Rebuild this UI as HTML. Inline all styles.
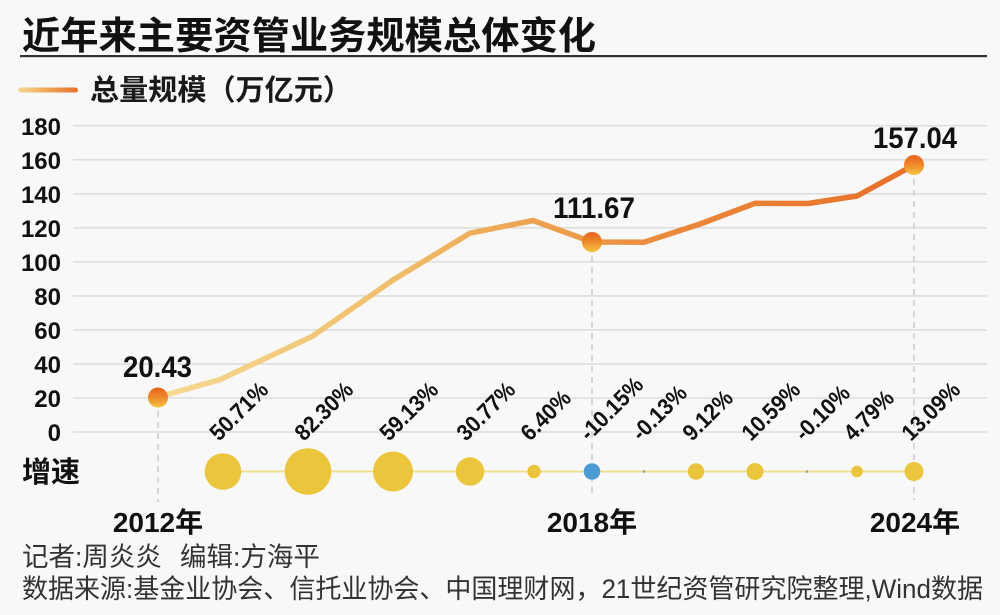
<!DOCTYPE html>
<html><head><meta charset="utf-8">
<style>
html,body{margin:0;padding:0;background:#f8f8f8;}
svg{display:block;}
text{font-family:"Liberation Sans","Noto Sans CJK SC",sans-serif;}
</style></head>
<body>
<svg width="1000" height="615" viewBox="0 0 1000 615" xmlns="http://www.w3.org/2000/svg">
<defs>
<linearGradient id="lg" gradientUnits="userSpaceOnUse" x1="158" y1="0" x2="914" y2="0">
<stop offset="0" stop-color="#F6DA94"/>
<stop offset="0.3" stop-color="#F0BF6C"/>
<stop offset="0.5" stop-color="#EDA251"/>
<stop offset="0.7" stop-color="#EA8739"/>
<stop offset="1" stop-color="#E8702A"/>
</linearGradient>
<linearGradient id="leg" gradientUnits="userSpaceOnUse" x1="18" y1="0" x2="78" y2="0">
<stop offset="0" stop-color="#F6D894"/>
<stop offset="0.5" stop-color="#EFA655"/>
<stop offset="1" stop-color="#E8702A"/>
</linearGradient>
<linearGradient id="dot" x1="0" y1="0" x2="0" y2="1">
<stop offset="0" stop-color="#E8621E"/>
<stop offset="0.5" stop-color="#EE8A2A"/>
<stop offset="1" stop-color="#F6C440"/>
</linearGradient>
</defs>
<rect width="1000" height="615" fill="#f8f8f8"/>

<!-- title -->
<text x="22" y="49" font-size="38" font-weight="bold" fill="#111" textLength="574" lengthAdjust="spacingAndGlyphs">近年来主要资管业务规模总体变化</text>
<rect x="20" y="55" width="967" height="2.2" fill="#333"/>

<!-- legend -->
<rect x="18" y="87.5" width="60" height="5" rx="2.5" fill="url(#leg)"/>
<text x="90" y="100" font-size="29" font-weight="bold" fill="#1a1a1a" textLength="262" lengthAdjust="spacingAndGlyphs">总量规模（万亿元）</text>

<!-- grid -->
<g stroke="#dedede" stroke-width="1.6">
<line x1="73" y1="125.7" x2="987" y2="125.7"/>
<line x1="73" y1="159.7" x2="987" y2="159.7"/>
<line x1="73" y1="193.8" x2="987" y2="193.8"/>
<line x1="73" y1="227.8" x2="987" y2="227.8"/>
<line x1="73" y1="261.8" x2="987" y2="261.8"/>
<line x1="73" y1="295.9" x2="987" y2="295.9"/>
<line x1="73" y1="329.9" x2="987" y2="329.9"/>
<line x1="73" y1="363.9" x2="987" y2="363.9"/>
<line x1="73" y1="398" x2="987" y2="398"/>
<line x1="73" y1="432" x2="987" y2="432"/>
</g>
<g font-size="24" font-weight="bold" fill="#111" text-anchor="end">
<text x="61" y="135">180</text>
<text x="61" y="169">160</text>
<text x="61" y="203">140</text>
<text x="61" y="237">120</text>
<text x="61" y="271">100</text>
<text x="61" y="305">80</text>
<text x="61" y="339">60</text>
<text x="61" y="373">40</text>
<text x="61" y="407">20</text>
<text x="61" y="441">0</text>
</g>

<!-- dashed verticals -->
<g stroke="#c8c8c8" stroke-width="1.4" stroke-dasharray="6,5">
<line x1="158" y1="400" x2="158" y2="502"/>
<line x1="592" y1="245" x2="592" y2="498"/>
<line x1="914" y1="168" x2="914" y2="500"/>
</g>

<!-- main line -->
<polyline fill="none" stroke="url(#lg)" stroke-width="5.5" stroke-linejoin="round" stroke-linecap="round"
points="158,397.2 220,379.6 312,336.5 393,280 470,233.2 533,220.5 592,242 644,242.2 700,224 755,203.3 808,203.5 857,196 914,165"/>
<circle cx="158" cy="397.5" r="10" fill="url(#dot)"/>
<circle cx="592" cy="242" r="10" fill="url(#dot)"/>
<circle cx="914" cy="165" r="10" fill="url(#dot)"/>

<g font-size="30" font-weight="bold" fill="#111" text-anchor="middle">
<text x="157.5" y="377" textLength="69" lengthAdjust="spacingAndGlyphs">20.43</text>
<text x="594" y="218" textLength="82" lengthAdjust="spacingAndGlyphs">111.67</text>
<text x="915" y="148" textLength="84" lengthAdjust="spacingAndGlyphs">157.04</text>
</g>

<!-- growth row -->
<text x="22" y="482" font-size="29" font-weight="bold" fill="#111">增速</text>
<line x1="223" y1="471.5" x2="914" y2="471.5" stroke="#F2DE92" stroke-width="2"/>
<g fill="#EBC63C">
<circle cx="223" cy="471.5" r="18.3"/>
<circle cx="308" cy="471.5" r="23.3"/>
<circle cx="393" cy="471.5" r="20"/>
<circle cx="470" cy="471.5" r="14.2"/>
<circle cx="534" cy="471.5" r="6.7"/>
<circle cx="696" cy="471.5" r="8.2"/>
<circle cx="755" cy="471.5" r="8.5"/>
<circle cx="857" cy="471.5" r="5.8"/>
<circle cx="914" cy="471.5" r="9.5"/>
</g>
<circle cx="592" cy="471.5" r="8.3" fill="#4B9BD5"/>
<circle cx="644" cy="471.5" r="1.3" fill="#999"/>
<circle cx="807" cy="471.5" r="1.3" fill="#999"/>

<g font-size="23" font-weight="bold" fill="#111">
<text transform="translate(219,442) rotate(-45) scale(0.92,1)">50.71%</text>
<text transform="translate(304,442) rotate(-45) scale(0.92,1)">82.30%</text>
<text transform="translate(389,442) rotate(-45) scale(0.92,1)">59.13%</text>
<text transform="translate(466,442) rotate(-45) scale(0.92,1)">30.77%</text>
<text transform="translate(530,442) rotate(-45) scale(0.92,1)">6.40%</text>
<text transform="translate(589,442) rotate(-45) scale(0.92,1)">-10.15%</text>
<text transform="translate(641,442) rotate(-45) scale(0.92,1)">-0.13%</text>
<text transform="translate(692,442) rotate(-45) scale(0.92,1)">9.12%</text>
<text transform="translate(751,442) rotate(-45) scale(0.92,1)">10.59%</text>
<text transform="translate(804,442) rotate(-45) scale(0.92,1)">-0.10%</text>
<text transform="translate(853,442) rotate(-45) scale(0.92,1)">4.79%</text>
<text transform="translate(911,442) rotate(-45) scale(0.92,1)">13.09%</text>
</g>

<!-- year labels -->
<g font-size="28" font-weight="bold" fill="#111" text-anchor="middle">
<text x="158" y="532">2012年</text>
<text x="592" y="532">2018年</text>
<text x="915" y="532">2024年</text>
</g>

<!-- credits -->
<g font-size="26.5" fill="#333">
<text x="22" y="566">记者:周炎炎</text>
<text x="180" y="566">编辑:方海平</text>
<text x="22" y="598" textLength="961" lengthAdjust="spacingAndGlyphs">数据来源:基金业协会、信托业协会、中国理财网，21世纪资管研究院整理,Wind数据</text>
</g>
</svg>
</body></html>
